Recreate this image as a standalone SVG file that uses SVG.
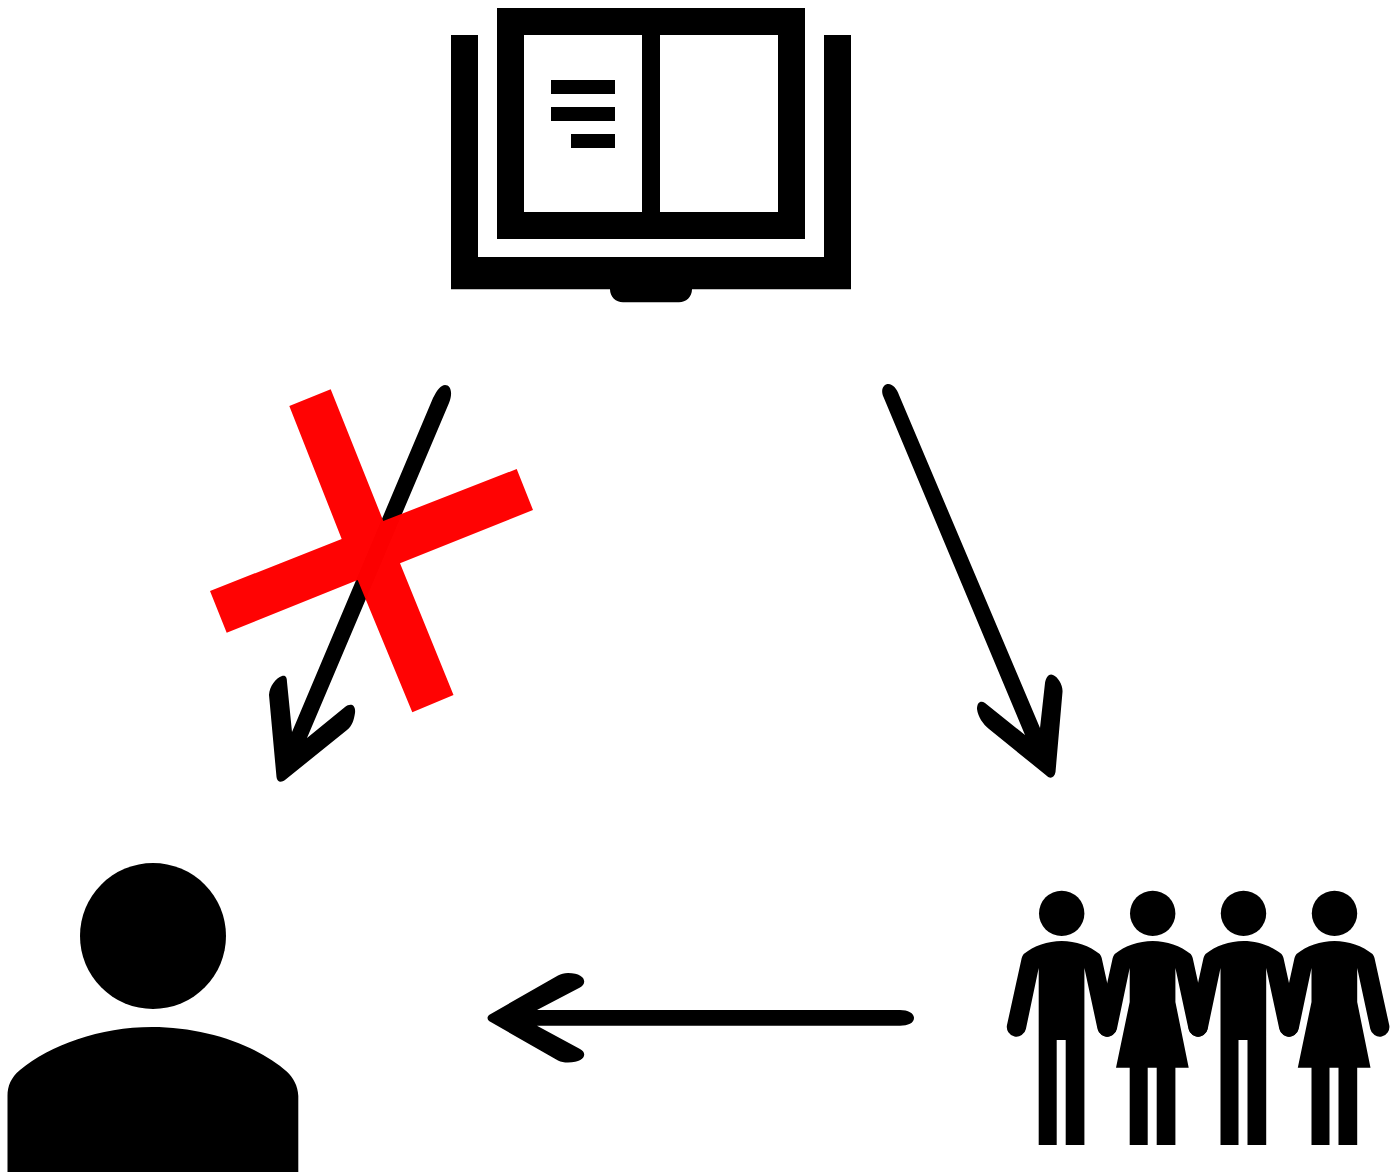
<svg xmlns="http://www.w3.org/2000/svg" width="1396" height="1174" viewBox="0 0 1396 1174">
<style>
.k{fill:#000}
.r{fill:#f00}
</style>
<defs>
<circle id="head" class="k" cx="0" cy="913.4" r="22.7"/>
<path id="man" class="k" d="M0,941 C-14,941 -28,946 -38,954 Q-39.5,956 -40,958 L-54.7,1025 A9.6,9.6 0 0 0 -35.8,1029 L-23,968 L-23,1145 L-5,1145 L-5,1040 L4,1040 L4,1145 L22.7,1145 L22.7,968 L35.8,1029 A9.6,9.6 0 0 0 54.7,1025 L40,958 Q39.5,956 38,954 C28,946 14,941 0,941 Z"/>
<path id="woman" class="k" d="M0,941 C-14,941 -28,946 -38,954 Q-39.5,956 -40,958 L-54.7,1025 A9.6,9.6 0 0 0 -35.8,1029 L-23,968 L-23,1002 L-36.7,1067.7 L-23,1067.7 L-23,1145 L-5,1145 L-5,1067.7 L4,1067.7 L4,1145 L22.7,1145 L22.7,1067.7 L36,1067.7 L22.7,1002 L22.7,968 L35.8,1029 A9.6,9.6 0 0 0 54.7,1025 L40,958 Q39.5,956 38,954 C28,946 14,941 0,941 Z"/>
</defs>
<g id="connectors">
<path id="arrow-book-people" class="k" d="M883.5,397 C880,389 884,384 888.3,384 C893,384 897,389 899,395 L1040,728 L1045,683 C1046,676 1050,673 1053,675 C1058,677 1063,685 1062.5,692 L1055.5,772 C1054.5,778 1050,779 1047,776 L989,729 C983,724 978,717 977,709 C977,702 981,700 985,703 L1025,735 Z"/>
<path id="arrow-people-person" class="k" d="M914,1018 C914,1013 908,1010 900,1010 L537,1010 L580,987.5 C588,983 585,973 568,973 C564,973 561,974 558,975.5 L489,1015 Q486,1018 489,1021 L558,1060.5 C561,1062 564,1062.5 568,1062.5 C585,1062.5 588,1053 580,1049 L537,1025.7 L900,1025.7 C908,1025.7 914,1023 914,1018 Z"/>
<path id="arrow-book-person" class="k" d="M433,398 C437,390 441,385 445,385 C451,385 453,393 449,403 L307,738 L345,707 C350,703 356,704 355,713 C354,720 352,726 347,730 L285,780 C281,783 277,782 276.5,777 L269,695 C269.5,686 276,678 282,676 C286,675 287,678 287,682 L292,732 Z"/>
</g>
<g id="cross" opacity="0.99">
<path class="r" d="M289.3,406 L330.7,389.3 L383.3,521 L516.7,469 L533,510 L400,563.3 L453.5,695 L412.3,712.3 L357.7,580 L226.7,632.7 L210,591 L341.7,539 Z"/>
</g>
<g id="book">
<path class="k" d="M451,35 H478 V257 H824 V35 H851 V289.3 H692 C692,297 686,302.3 679,302.3 H623 C616,302.3 610,297 610,289.3 H451 Z"/>
<path class="k" fill-rule="evenodd" d="M497,8 H805 V239 H497 Z M524,35 V212 H642 V35 Z M660,35 V212 H778 V35 Z"/>
<rect class="k" x="551" y="80" width="64" height="14"/>
<rect class="k" x="551" y="107" width="64" height="14"/>
<rect class="k" x="571" y="134" width="44" height="14"/>
</g>
<g id="person">
<circle class="k" cx="153" cy="936" r="73"/>
<path class="k" d="M7.5,1172 V1096 C7.5,1086 11,1077.5 20,1070 C50,1045 100,1027 152,1027 C205,1027 257,1045 287,1071.7 C293,1077 298,1086 298.3,1096 V1172 Z"/>
</g>
<g id="people">
<use href="#head" x="1061.7"/>
<use href="#man" x="1061.7"/>
<use href="#head" x="1152.7"/>
<use href="#woman" x="1152.7"/>
<use href="#head" x="1243.5"/>
<use href="#man" x="1243.5"/>
<use href="#head" x="1334.5"/>
<use href="#woman" x="1334.5"/>
</g>
</svg>
